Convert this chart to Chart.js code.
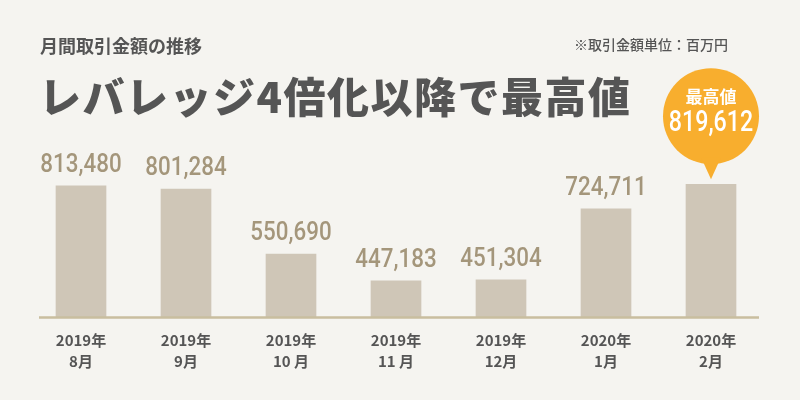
<!DOCTYPE html>
<html lang="ja">
<head>
<meta charset="utf-8">
<script src="https://cdn.jsdelivr.net/npm/chart.js@4.4.1/dist/chart.umd.min.js"></script>
<style>
  html, body { margin: 0; padding: 0; background: #f5f4f0; }
  #wrap { position: relative; width: 800px; height: 400px; overflow: hidden; }
  #chart { position: absolute; left: 0; top: 0; }
  .t { position: absolute; color: #555; font-family: "Noto Sans CJK JP", sans-serif; white-space: nowrap; }
  #sub { left: 40px; top: 32px; font-size: 18px; font-weight: 700; }
  #main { left: 39px; top: 64px; font-size: 42px; font-weight: 900; letter-spacing: 1.5px; }
  #unit { left: 574px; top: 34px; font-size: 14px; font-weight: 500; }
</style>
</head>
<body>
<div id="wrap">
  <canvas id="chart" width="800" height="400"></canvas>
  <div class="t" id="sub">月間取引金額の推移</div>
  <div class="t" id="main">レバレッジ4倍化以降で最高値</div>
  <div class="t" id="unit">※取引金額単位：百万円</div>
</div>
<script>
// 月間取引金額（百万円）
const years = ['2019年', '2019年', '2019年', '2019年', '2019年', '2020年', '2020年'];
const months = ['8月', '9月', '10 月', '11 月', '12月', '1月', '2月'];
const amounts = [813480, 801284, 550690, 447183, 451304, 724711, 819612];
const peakLabel = '最高値';

const Y_MIN = 308000;
const Y_MAX = 990000;

const fmt = v => v.toLocaleString('en-US');

// 軸の線（カテゴリ幅より少し内側）
const axisLine = {
    id: 'axisLine',
    afterDatasetsDraw(chart) {
        const { ctx, chartArea } = chart;
        ctx.save();
        ctx.strokeStyle = '#c9be9f';
        ctx.lineWidth = 2.5;
        ctx.beginPath();
        ctx.moveTo(chartArea.left + 10.5, chartArea.bottom + 0.5);
        ctx.lineTo(chartArea.right - 4.5, chartArea.bottom + 0.5);
        ctx.stroke();
        ctx.restore();
    }
};

// 数値ラベルと最高値の吹き出し
const valueLabels = {
    id: 'valueLabels',
    afterDatasetsDraw(chart) {
        const ctx = chart.ctx;
        const bars = chart.getDatasetMeta(0).data;
        const data = chart.data.datasets[0].data;
        const peak = data.indexOf(Math.max(...data));
        ctx.save();
        bars.forEach((bar, i) => {
            if (i === peak) {
                return;
            }
            ctx.save();
            ctx.translate(bar.x, bar.y - 14);
            ctx.scale(0.86, 1);
            ctx.font = '500 26px Roboto, sans-serif';
            ctx.fillStyle = '#a4967b';
            ctx.textAlign = 'center';
            ctx.textBaseline = 'alphabetic';
            ctx.fillText(fmt(data[i]), 0, 0);
            ctx.restore();
        });

        const b = bars[peak];
        const tip = b.y - 5;
        const cy = tip - 63;
        const r = 48;
        ctx.fillStyle = '#f8ae2e';
        ctx.beginPath();
        ctx.arc(b.x, cy, r, 0, Math.PI * 2);
        ctx.fill();
        ctx.beginPath();
        ctx.moveTo(b.x - 10, tip - 22);
        ctx.lineTo(b.x + 10, tip - 22);
        ctx.lineTo(b.x, tip);
        ctx.closePath();
        ctx.fill();

        ctx.fillStyle = '#ffffff';
        ctx.textAlign = 'center';
        ctx.textBaseline = 'middle';
        ctx.font = '700 17px "Noto Sans CJK JP", sans-serif';
        ctx.fillText(peakLabel, b.x, cy - 20);
        ctx.save();
        ctx.translate(b.x, cy + 8);
        ctx.scale(0.8, 1);
        ctx.font = '500 29px Roboto, sans-serif';
        ctx.fillText(fmt(data[peak]), 0, 0);
        ctx.restore();
        ctx.restore();
    }
};

const ctx = document.getElementById('chart').getContext('2d');
const chart = new Chart(ctx, {
    type: 'bar',
    data: {
        labels: years.map((y, i) => [y, months[i]]),
        datasets: [{
            data: amounts,
            backgroundColor: '#cfc6b7',
            borderWidth: 0,
            barThickness: 50
        }]
    },
    options: {
        responsive: false,
        animation: false,
        layout: {
            padding: { left: 28.5, right: 36.5, top: 140, bottom: 15 }
        },
        plugins: {
            legend: { display: false },
            tooltip: { enabled: false }
        },
        scales: {
            x: {
                grid: { display: false, drawTicks: false },
                border: { display: false },
                ticks: {
                    padding: 13,
                    color: '#555',
                    font: { family: '"Noto Sans CJK JP", sans-serif', size: 15, weight: '700', lineHeight: 1.4 }
                }
            },
            y: {
                display: false,
                min: Y_MIN,
                max: Y_MAX
            }
        }
    },
    plugins: [axisLine, valueLabels]
});
</script>
</body>
</html>
